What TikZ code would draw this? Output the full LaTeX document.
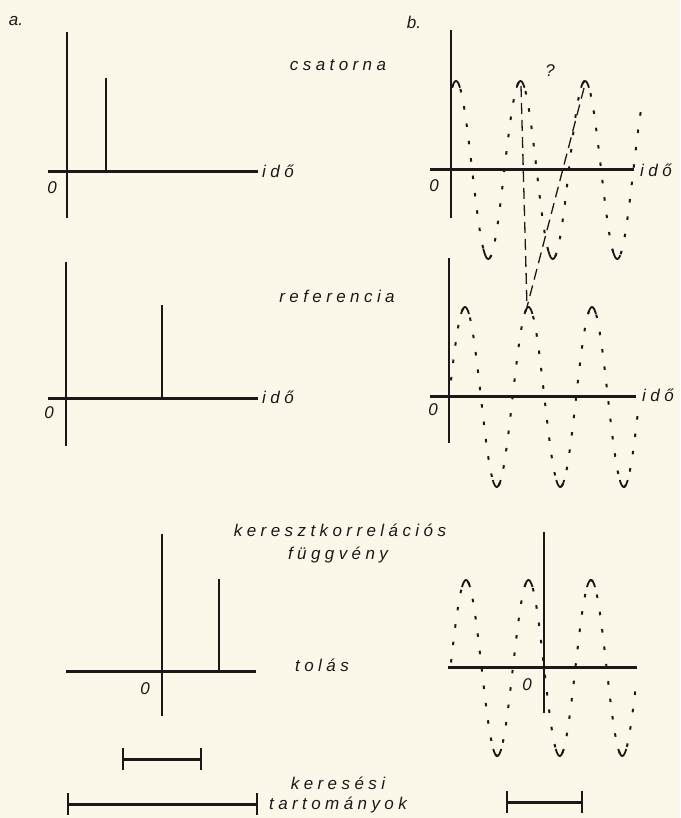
\documentclass[tikz,border=0pt]{standalone}
\usepackage{fontspec}
\setmainfont{Liberation Sans}
\newfontfamily\betu[LetterSpace=26]{Liberation Sans}
\usepackage{tikz}
\usetikzlibrary{arrows.meta}

\definecolor{papir}{RGB}{251,248,234}
\definecolor{tinta}{RGB}{25,25,25}

\tikzset{
  tengely/.style={tinta,line width=1.4pt},
  vizszintes/.style={tinta,line width=3pt},
  impulzus/.style={tinta,line width=1.3pt},
  hullam/.style={tinta,line width=2pt,dash pattern=on 3.5pt off 14pt},
  csucsvonal/.style={tinta,line width=1.8pt},
  szaggatott/.style={tinta,line width=1.3pt,dash pattern=on 11pt off 6pt},
  felirat/.style={tinta,inner sep=0pt,font=\betu\itshape\fontsize{17}{20}\selectfont},
  szam/.style={tinta,inner sep=0pt,font=\itshape\fontsize{17}{20}\selectfont},
  skala/.style={tinta,line width=3pt},
  skalavege/.style={tinta,line width=1.6pt}
}

\begin{document}
\begin{tikzpicture}[x=1pt,y=-1pt]
\fill[papir](0,0)rectangle(680,818);
\useasboundingbox(0,0)rectangle(680,818);

% a. oszlop
\node[szam](cimA)at(16,21){a.};
\draw[tengely](67,32)--(67,218);
\draw[vizszintes](48,172)--(258,172);
\draw[impulzus](106,172)--(106,78);
\node[szam](nullaA1)at(52,188){0};
\node[felirat,anchor=west](idoA1)at(262,171){idő};
\node[felirat](csatorna)at(338,65){csatorna};

\draw[tengely](66,262)--(66,446);
\draw[vizszintes](48,398)--(258,398);
\draw[impulzus](162,398)--(162,305);
\node[szam](nullaA2)at(49,413){0};
\node[felirat,anchor=west](idoA2)at(262,397){idő};
\node[felirat](referencia)at(337,296){referencia};

% keresztkorrelacio
\node[felirat](kereszt)at(340,530){keresztkorrelációs};
\node[felirat](fuggveny)at(338,555){függvény};
\draw[tengely](162,534)--(162,716);
\draw[vizszintes](66,671)--(256,671);
\draw[impulzus](219,671)--(219,579);
\node[szam](nullaA3)at(145,689){0};
\node[felirat](tolas)at(322,665){tolás};

% keresesi tartomanyok
\foreach \n/\a/\b/\y in {rovid/123/201/759,hosszu/68/257/804,jobb/507/582/802}{
  \coordinate(\n1)at(\a,\y);
  \coordinate(\n2)at(\b,\y);
  \draw[skala](\n1)--(\n2);
  \draw[skalavege]([yshift=11pt]\n1)--([yshift=-11pt]\n1);
  \draw[skalavege]([yshift=11pt]\n2)--([yshift=-11pt]\n2);
}
\node[felirat](keresesi)at(338,783){keresési};
\node[felirat](tartomany)at(338,805){tartományok};

% b. oszlop
\node[szam](cimB)at(414,22){b.};
\draw[tengely](451,30)--(451,218);
\draw[vizszintes](430,170)--(634,170);
\draw[hullam]plot[domain=452:641,samples=150](\x,{170-89*cos(5.5814*(\x-456))});
\foreach \p in {456,520.5,585,487.25,551.75,616.25}
  \draw[csucsvonal]plot[domain=\p-4:\p+4,samples=9](\x,{170-89*cos(5.5814*(\x-456))});
\node[szam](nullaB1)at(434,186){0};
\node[felirat,anchor=west](idoB1)at(640,170){idő};
\node[szam](kerdes)at(550,71){?};

\draw[tengely](449,258)--(449,443);
\draw[vizszintes](430,396)--(636,396);
\draw[hullam]plot[domain=451:638,samples=150](\x,{397-90*cos(5.6693*(\x-465))});
\foreach \p in {465,528.5,592,496.75,560.25,623.75}
  \draw[csucsvonal]plot[domain=\p-4:\p+4,samples=9](\x,{397-90*cos(5.6693*(\x-465))});
\node[szam](nullaB2)at(433,410){0};
\node[felirat,anchor=west](idoB2)at(642,395){idő};

\coordinate(csucs1)at(521,86);
\coordinate(csucs2)at(584,88);
\coordinate(csucsR)at(527,307);
\draw[szaggatott](csucs1)--(csucsR);
\draw[szaggatott](csucs2)--(csucsR);

\draw[tengely](544,532)--(544,713);
\draw[vizszintes](448,667)--(637,667);
\draw[hullam]plot[domain=451:636,samples=150](\x,{668-88*cos(5.76*(\x-466))});
\foreach \p in {466,528.5,591,497.25,559.75,622.25}
  \draw[csucsvonal]plot[domain=\p-4:\p+4,samples=9](\x,{668-88*cos(5.76*(\x-466))});
\node[szam](nullaB3)at(527,685){0};
\end{tikzpicture}
\end{document}
